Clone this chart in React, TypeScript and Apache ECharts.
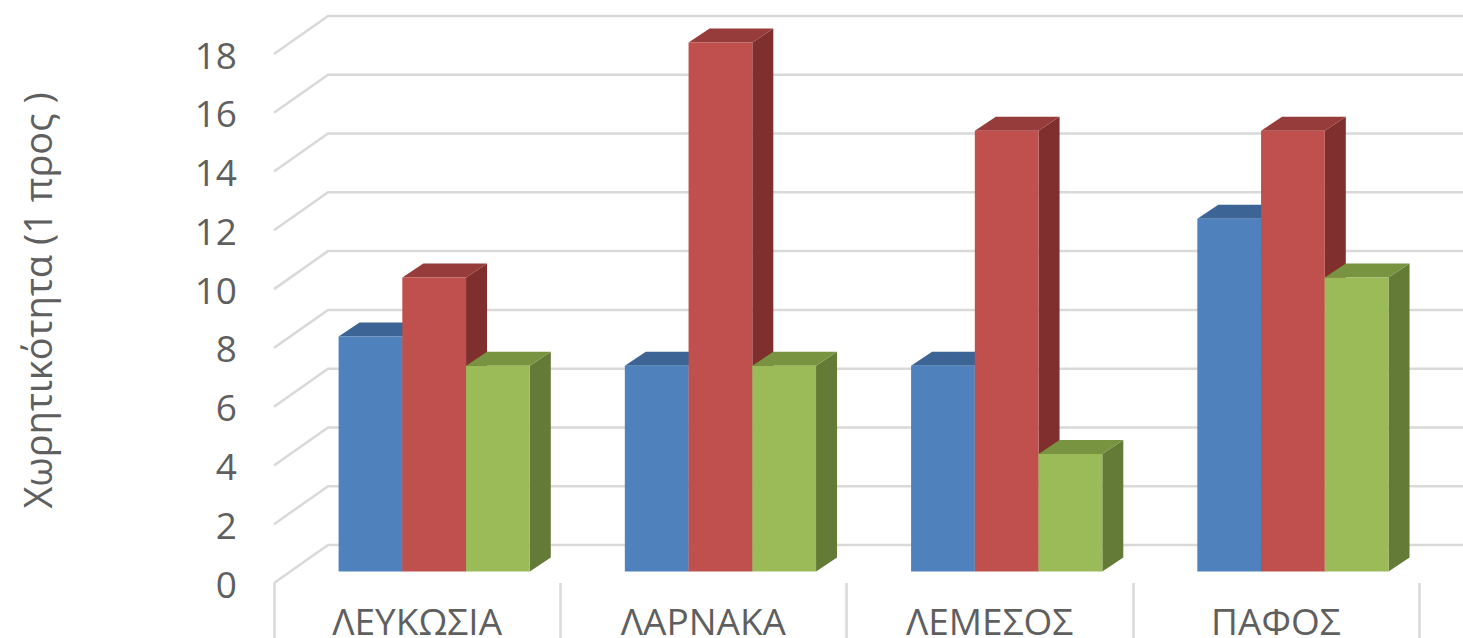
import React, { useEffect, useRef } from "react";
import * as echarts from "echarts";

const categories = ["ΛΕΥΚΩΣΙΑ", "ΛΑΡΝΑΚΑ", "ΛΕΜΕΣΟΣ", "ΠΑΦΟΣ"];
const blueValues = [8, 7, 7, 12];
const redValues = [10, 18, 15, 15];
const greenValues = [7, 7, 4, 10];
const gridTicks = [0, 2, 4, 6, 8, 10, 12, 14, 16, 18];
const axisTitle = "Χωρητικότητα (1 προς )";

const FONT = "'Open Sans', 'Noto Sans', sans-serif";
const TEXT = "#5f5f5f";
const GRID = "#d9d9d9";
const WALL_DX = 54;
const WALL_DY = 38;
const FRONT_DY = 11.5;
const BAR_FRAC = 63.7 / 286.1;
const GROUP_OFFSET_FRAC = -78.5 / 286.1;
const SIDE_DX = 21;
const SIDE_DY = 14;

function barSeries(values: number[], idx: number, front: string, top: string, side: string) {
  return {
    type: "custom",
    clip: false,
    silent: true,
    encode: { x: 0, y: 1 },
    data: values.map((v, i) => [i, v]),
    renderItem: (_p: any, api: any) => {
      const band = api.size([1, 0])[0];
      const c = api.coord([api.value(0), api.value(1)]);
      const b = api.coord([api.value(0), 0]);
      const w = band * BAR_FRAC;
      const x0 = c[0] + band * GROUP_OFFSET_FRAC + idx * w;
      const x1 = x0 + w;
      const yT = c[1] - FRONT_DY;
      const yB = b[1] - FRONT_DY;
      return {
        type: "group",
        children: [
          {
            type: "polygon",
            shape: { points: [[x1, yT], [x1 + SIDE_DX, yT - SIDE_DY], [x1 + SIDE_DX, yB - SIDE_DY], [x1, yB]] },
            style: { fill: side },
          },
          {
            type: "polygon",
            shape: { points: [[x0, yT], [x0 + SIDE_DX, yT - SIDE_DY], [x1 + SIDE_DX, yT - SIDE_DY], [x1, yT]] },
            style: { fill: top },
          },
          {
            type: "polygon",
            shape: { points: [[x0, yT], [x1, yT], [x1, yB], [x0, yB]] },
            style: { fill: front },
          },
        ],
      };
    },
  };
}

export default function App() {
  const ref = useRef<HTMLDivElement>(null);
  useEffect(() => {
    const chart = echarts.init(ref.current!, undefined, { renderer: "svg" });
    chart.setOption({
      animation: false,
      backgroundColor: "#ffffff",
      grid: { left: 274, top: 54, width: 1145, height: 529, outerBoundsMode: "none" },
      xAxis: {
        type: "category",
        data: categories,
        axisLine: { show: false },
        axisTick: { show: true, length: 55, lineStyle: { color: GRID, width: 2.5 } },
        axisLabel: { fontFamily: FONT, fontSize: 37, lineHeight: 26, color: TEXT, margin: 24 },
      },
      yAxis: {
        type: "value",
        min: 0,
        max: 18,
        interval: 2,
        axisLine: { show: false },
        axisTick: { show: false },
        splitLine: { show: false },
        axisLabel: { fontFamily: FONT, fontSize: 37, color: TEXT, margin: 37, padding: [5, 0, 0, 0] },
        name: axisTitle,
        nameLocation: "middle",
        nameGap: 218,
        nameRotate: 90,
        nameTextStyle: { fontFamily: FONT, fontSize: 38, color: TEXT, padding: [0, 0, 0, 36] },
      },
      series: [
        {
          type: "custom",
          clip: false,
          silent: true,
          encode: { x: 0, y: 1 },
          data: gridTicks.map((t) => [0, t]),
          renderItem: (p: any, api: any) => {
            const y = api.coord([0, api.value(1)])[1];
            const x = p.coordSys.x;
            return {
              type: "polyline",
              shape: { points: [[x, y], [x + WALL_DX, y - WALL_DY], [1470, y - WALL_DY]] },
              style: { stroke: GRID, lineWidth: 2.5, fill: "none" },
            };
          },
        },
        barSeries(blueValues, 0, "#4f81bd", "#3c6494", "#3c6494"),
        barSeries(redValues, 1, "#c0504d", "#963c3a", "#7f302e"),
        barSeries(greenValues, 2, "#9bbb59", "#789440", "#647a37"),
      ],
    });
    return () => chart.dispose();
  }, []);
  return <div ref={ref} style={{ position: "fixed", left: 0, top: 0, width: 1463, height: 638 }} />;
}
